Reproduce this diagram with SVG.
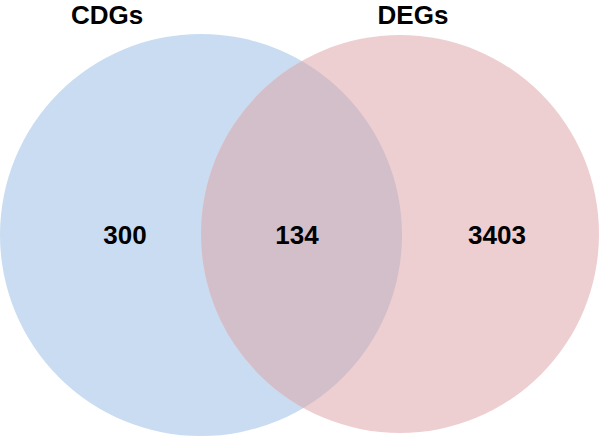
<svg xmlns="http://www.w3.org/2000/svg" width="602" height="438" viewBox="0 0 602 438">
<style>
.lbl{font-family:"Liberation Sans",Arial,sans-serif;font-weight:bold;font-size:26px;fill:#000;text-anchor:middle}
</style>
<defs>
<clipPath id="clipL"><circle cx="201" cy="235" r="201"/></clipPath>
</defs>
<rect width="602" height="438" fill="#fff"/>
<g id="set-cdgs">
<circle cx="201" cy="235" r="201" fill="#c9dcf1"/>
<text class="lbl" x="107" y="24">CDGs</text>
</g>
<g id="set-degs">
<circle cx="400" cy="234" r="199" fill="#eecfd1"/>
<text class="lbl" x="413" y="24">DEGs</text>
</g>
<g id="overlap">
<circle cx="400" cy="234" r="199" fill="#d2bfca" clip-path="url(#clipL)"/>
</g>
<g id="counts">
<text class="lbl" x="125" y="244">300</text>
<text class="lbl" x="297" y="244">134</text>
<text class="lbl" x="497" y="244">3403</text>
</g>
<g id="connectors"/>
</svg>
